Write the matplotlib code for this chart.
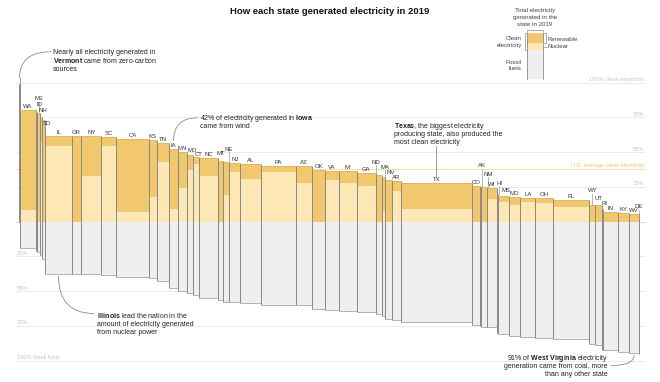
import numpy as np
import matplotlib.pyplot as plt
from matplotlib.path import Path
from matplotlib.patches import PathPatch, Rectangle

plt.rcParams['font.family'] = ['Liberation Sans', 'DejaVu Sans']
plt.rcParams['mathtext.fontset'] = 'custom'
plt.rcParams['mathtext.rm'] = 'Liberation Sans'
plt.rcParams['mathtext.it'] = 'Liberation Sans:italic'
plt.rcParams['mathtext.bf'] = 'Liberation Sans:bold'

# states sorted by share of clean electricity, 2019
states = ['VT', 'WA', 'ME', 'ID', 'NH', 'SD', 'IL', 'OR', 'NY', 'SC', 'CA', 'KS', 'TN',
          'IA', 'MN', 'MD', 'CT', 'NC', 'MT', 'NE', 'NJ', 'AL', 'PA', 'AZ', 'OK', 'VA',
          'MI', 'GA', 'ND', 'MA', 'NV', 'AR', 'TX', 'CO', 'AK', 'NM', 'WI', 'HI', 'MS',
          'MO', 'LA', 'OH', 'FL', 'WY', 'UT', 'RI', 'IN', 'KY', 'WV', 'DE']
# total generation, TWh
total_twh = [2, 106, 11, 15, 17, 17, 181, 59, 132, 99, 215, 53, 79,
             59, 59, 44, 36, 127, 32, 42, 72, 139, 226, 110, 83, 92,
             119, 123, 42, 22, 42, 64, 465, 56, 7, 36, 66, 10, 67,
             77, 99, 116, 238, 38, 46, 9, 99, 73, 64, 5]
# shares of generation, %
renewable = [99, 71.5, 79, 78.5, 17, 73, 7.4, 62, 28.8, 6.5, 52.5, 41, 13.7,
             43, 26, 11, 5, 12.5, 43.7, 23.5, 6.5, 10.6, 4.3, 12.5, 37.2, 6.5,
             8.4, 9, 33.6, 24, 30, 7.2, 18.7, 25.5, 25.2, 24.7, 8, 20, 4.3,
             5.7, 2.9, 3, 5.2, 12, 11.8, 9, 6.8, 6, 5.3, 3.5]
nuclear = [0, 8.6, 0, 0, 58, 0, 54.5, 0, 33.1, 54.7, 7.2, 18, 43.1,
           9.1, 24.4, 37.2, 41.3, 33, 0, 19.2, 35.9, 30.7, 36, 27.6, 0, 30,
           28.1, 25.8, 0, 8, 0, 22.1, 8.9, 0, 0, 0, 16, 0, 14.4,
           11.8, 14.4, 13.8, 10.4, 0, 0, 0, 0, 0, 0, 0]
fossil = [0, 19, 21, 22, 24, 27, 37.6, 37.6, 37.6, 38, 39.5, 40.5, 42.4,
          48, 49.6, 51, 53, 55, 56, 57.5, 58, 58.7, 60, 60, 63, 63.7,
          64, 65, 66.4, 68, 70, 71, 72, 74, 75, 75.5, 75.8, 80, 80.5,
          82, 83, 83.4, 84.6, 88, 88.5, 92, 92.3, 93.7, 94.7, 95]
us_avg_clean = 38

# label nudges in pixels (dx, dy up) for crowded narrow bars
label_offsets = {'ME': (2, 13), 'ID': (1.3, 8), 'NH': (2.4, 6.5), 'SD': (3.8, -3),
                 'MD': (2, 4.7), 'CT': (2.2, 3), 'MT': (0.7, 7), 'NE': (2.3, 13.3),
                 'ND': (-2.5, 12.3), 'MA': (1, 9.7), 'NV': (2, 7.3), 'AK': (0.8, 20.7),
                 'NM': (4, 13), 'HI': (1.3, 10.7), 'MS': (2, 5.7), 'WY': (0.5, 14.3),
                 'UT': (0.5, 6.7), 'RI': (1.6, 5.7), 'DE': (-0.4, 10)}

REN = '#f2c86f'
NUC = '#fde7b4'
FOS = '#efefef'
EDGE = '#8a8a8a'
GRID = '#e8e8e8'
TXT = '#222222'

W, H = 660, 382
X0, X1 = 19.3, 639.7   # pixel span of the bars
BASE = 221.7           # pixel row of the zero line
PPP = 1.39             # pixels per percentage point

fig = plt.figure(figsize=(W / 100, H / 100), dpi=100)
ax = fig.add_axes([X0 / W, 1 - (BASE + 100 * PPP) / H, (X1 - X0) / W, 200 * PPP / H])
pax = fig.add_axes([0, 0, 1, 1], zorder=5)
pax.set_xlim(0, W)
pax.set_ylim(H, 0)
pax.axis('off')

tot = np.array(total_twh, float)
ren = np.array(renewable)
nuc = np.array(nuclear)
fos = np.array(fossil)
clean = ren + nuc
left = np.concatenate([[0], np.cumsum(tot)[:-1]])
ax.set_xlim(0, tot.sum())
ax.set_ylim(-100, 100)
ax.axis('off')
twh_per_px = tot.sum() / (X1 - X0)

# grid lines
gx = [(16 - X0) / (X1 - X0), (645 - X0) / (X1 - X0)]
trans = ax.get_yaxis_transform()
for v in [100, 75, 50, 25, 0, -25, -50, -75, -100]:
    ax.plot(gx, [v, v], transform=trans, color=GRID if v else '#d2d2d2', lw=0.6,
            zorder=0, clip_on=False)
ax.plot(gx, [us_avg_clean] * 2, transform=trans, color='#f6e1aa', lw=0.7, zorder=0, clip_on=False)

glab = dict(fontsize=4.1, color='#c4c4c4', va='bottom')
for v, s in [(100, '100% clean electricity'), (75, '75%'), (50, '50%'), (25, '25%')]:
    pax.text(644, BASE - v * PPP - 0.6, s, ha='right', **glab)
pax.text(644, BASE - us_avg_clean * PPP - 0.6, 'U.S. average clean electricity', ha='right',
         fontsize=4.1, color='#e6c878', va='bottom')
for v, s in [(25, '25%'), (50, '50%'), (75, '75%'), (100, '100% fossil fuels')]:
    pax.text(17, BASE + v * PPP - 0.6, s, ha='left', **glab)

# bars
ax.bar(left, nuc, tot, align='edge', color=NUC, lw=0, zorder=2)
ax.bar(left, ren, tot, bottom=nuc, align='edge', color=REN, lw=0, zorder=2)
ax.bar(left, -fos, tot, align='edge', color=FOS, lw=0, zorder=2)
ax.vlines(left, -fos, clean, color=EDGE, lw=0.7, zorder=3)
ax.vlines(left + tot, -fos, clean, color=EDGE, lw=0.7, zorder=3)
ax.hlines(-fos, left, left + tot, color='#a5a5a5', lw=0.6, zorder=3)
ax.hlines(clean, left, left + tot, color='#e0b45a', lw=0.6, zorder=3)

for i, st in enumerate(states):
    if st == 'VT':
        continue
    dx, dy = label_offsets.get(st, (0, 3.5))
    cx = left[i] + tot[i] / 2
    ax.annotate(st, (cx, clean[i]), xytext=(dx, dy), textcoords='offset pixels',
                ha='center', va='center', fontsize=4.3, color='#333333', zorder=4)
    if dy >= 9:
        lx = cx + dx * twh_per_px
        ax.plot([lx, lx], [clean[i], clean[i] + (dy - 2.8) / PPP], color='#999999',
                lw=0.5, zorder=4)

# title
pax.text(330, 11, 'How each state generated electricity in 2019', ha='center', va='center',
         fontsize=6.8, weight='bold', color='#111111')


def curve(p0, p1, p2):
    path = Path([p0, p1, p2], [Path.MOVETO, Path.CURVE3, Path.CURVE3])
    pax.add_patch(PathPatch(path, fill=False, ec='#8c8c8c', lw=0.6))


def note(x, y, s, ha='left'):
    # y is the visual middle of the line; place by baseline so bold runs line up
    pax.text(x, y + 2.4, s, ha=ha, va='baseline', fontsize=5, color=TXT)


# Vermont
curve((51, 51.7), (19.5, 51.7), (19.5, 78))
pax.plot([19.5, 19.5], [78, 84], color='#8c8c8c', lw=0.6)
note(53, 51.7, 'Nearly all electricity generated in')
note(53, 60.2, r'$\bf{Vermont}$ came from zero-carbon')
note(53, 68.7, 'sources')

# Iowa
curve((197.5, 117.8), (173.5, 117.8), (173.5, 141))
note(199.5, 117.5, r'42% of electricity generated in $\bf{Iowa}$')
note(199.5, 126, 'came from wind')

# Texas
pax.plot([436, 436], [146, 177], color='#8c8c8c', lw=0.6)
note(394, 125.5, r'$\bf{Texas}$, the biggest electricity')
note(394, 133.7, 'producing state, also produced the')
note(394, 141.8, 'most clean electricity')

# Illinois
curve((58.5, 276), (58.5, 313.5), (94, 313.5))
note(96.7, 315.3, r'$\bf{Illinois}$ lead the nation in the')
note(96.7, 323.5, 'amount of electricity generated')
note(96.7, 331.7, 'from nuclear power')

# West Virginia
curve((611, 365.5), (634.1, 365.5), (634.1, 355))
note(607.7, 357.3, r'91% of $\bf{West\ Virginia}$ electricity', ha='right')
note(607.7, 365.3, 'generation came from coal, more', ha='right')
note(607.7, 373.3, 'than any other state', ha='right')

# legend
lx0, lx1 = 527, 543
pax.add_patch(Rectangle((lx0, 33), lx1 - lx0, 10, color=REN, lw=0))
pax.add_patch(Rectangle((lx0, 43), lx1 - lx0, 7, color=NUC, lw=0))
pax.add_patch(Rectangle((lx0, 50), lx1 - lx0, 29, color=FOS, lw=0))
pax.plot([lx0, lx0], [33, 79], color=EDGE, lw=0.6)
pax.plot([lx1, lx1], [33, 79], color=EDGE, lw=0.6)
brk = dict(color='#8c8c8c', lw=0.5)
pax.plot([lx0, lx0, lx1, lx1], [31.5, 29.5, 29.5, 31.5], **brk)
pax.plot([526, 524.5, 524.5, 526], [33, 33, 50, 50], **brk)
pax.plot([544, 545.5, 545.5, 544], [33, 33, 43, 43], **brk)
pax.plot([543.5, 547], [47, 47], **brk)
leg = dict(fontsize=4.4, color='#444444', va='center')
pax.text(535, 10.7, 'Total electricity', ha='center', **leg)
pax.text(535, 17.7, 'generated in the', ha='center', **leg)
pax.text(535, 24.7, 'state in 2019', ha='center', **leg)
pax.text(522, 38.7, 'Clean', ha='right', **leg)
pax.text(522, 45.3, 'electricity', ha='right', **leg)
pax.text(522, 62, 'Fossil', ha='right', **leg)
pax.text(522, 68.7, 'fuels', ha='right', **leg)
pax.text(548, 39.5, 'Renewable', ha='left', **leg)
pax.text(548, 47, 'Nuclear', ha='left', **leg)

fig.savefig('out.png', dpi=100)
